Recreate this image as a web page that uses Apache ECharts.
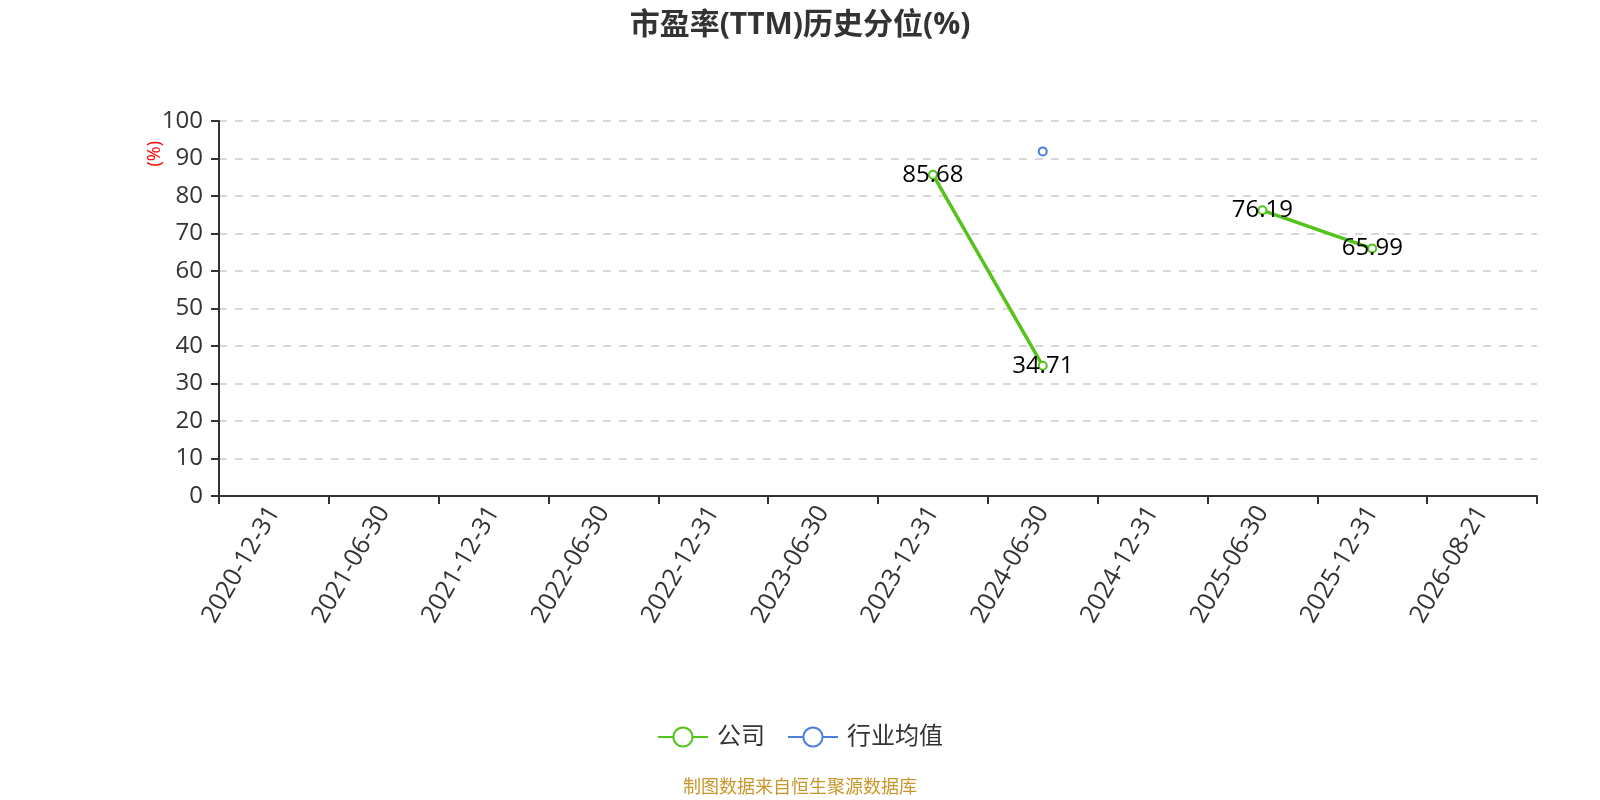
<!DOCTYPE html>
<html>
<head>
<meta charset="utf-8">
<script src="https://cdn.jsdelivr.net/npm/echarts@6/dist/echarts.min.js"></script>
<style>
  html, body { margin: 0; padding: 0; background: #fff; }
  #chart { width: 1600px; height: 800px; }
</style>
</head>
<body>
<div id="chart"></div>
<script>
// 报告期
const categories = ['2020-12-31', '2021-06-30', '2021-12-31', '2022-06-30', '2022-12-31', '2023-06-30',
    '2023-12-31', '2024-06-30', '2024-12-31', '2025-06-30', '2025-12-31', '2026-08-21'];
// 公司 PE(TTM) 历史分位
const companyValues = [null, null, null, null, null, null, 85.68, 34.71, null, 76.19, 65.99, null];
// 行业均值
const industryValues = [null, null, null, null, null, null, null, 91.9, null, null, null, null];
const yTicks = { min: 0, max: 100, interval: 10 };

const fontFamily = "'Open Sans', 'Noto Sans CJK SC', sans-serif";

document.addEventListener("DOMContentLoaded", () => {
    const chart = echarts.init(document.getElementById('chart'));
    chart.setOption({
        animation: false,
        textStyle: { fontFamily: fontFamily },
        title: {
            text: '市盈率(TTM)历史分位(%)',
            left: 'center',
            top: 5,
            textStyle: { fontSize: 30, fontWeight: 'bold', color: '#333', fontFamily: fontFamily }
        },
        legend: {
            bottom: 46,
            left: 'center',
            itemWidth: 50,
            itemHeight: 24,
            itemGap: 22,
            textStyle: { fontSize: 24, color: '#333', padding: [0, 0, 0, 4] },
            data: ['公司', '行业均值']
        },
        grid: { left: 219, right: 63, top: 121, bottom: 304 },
        graphic: [
            {
                type: 'text',
                left: 146,
                top: 141,
                rotation: Math.PI / 2,
                style: { text: '(%)', fill: '#ff0000', fontSize: 18, fontFamily: fontFamily }
            },
            {
                type: 'text',
                left: 'center',
                top: 779,
                style: { text: '制图数据来自恒生聚源数据库', fill: '#c8962a', fontSize: 18, fontFamily: fontFamily }
            }
        ],
        xAxis: {
            type: 'category',
            data: categories,
            boundaryGap: true,
            axisLine: { lineStyle: { color: '#333', width: 2 } },
            axisTick: { show: true, length: 8, lineStyle: { color: '#333', width: 2 } },
            axisLabel: { rotate: 60, fontSize: 25, color: '#333', margin: 12, interval: 0 },
            splitLine: { show: false }
        },
        yAxis: {
            type: 'value',
            min: yTicks.min,
            max: yTicks.max,
            interval: yTicks.interval,
            axisLine: { show: true, lineStyle: { color: '#333', width: 2 } },
            axisTick: { show: true, length: 8, lineStyle: { color: '#333', width: 2 } },
            axisLabel: { fontSize: 24, color: '#333', margin: 16 },
            splitLine: { show: true, lineStyle: { type: [8, 8], color: '#ccc', width: 1.5 } }
        },
        series: [
            {
                name: '公司',
                type: 'line',
                data: companyValues,
                connectNulls: false,
                symbol: 'emptyCircle',
                symbolSize: 8,
                itemStyle: { color: '#52c41a' },
                lineStyle: { color: '#52c41a', width: 3.5 },
                label: {
                    show: true,
                    position: 'inside',
                    fontSize: 24,
                    color: '#000'
                }
            },
            {
                name: '行业均值',
                type: 'line',
                data: industryValues,
                symbol: 'emptyCircle',
                symbolSize: 8,
                itemStyle: { color: '#4a7fe0' },
                lineStyle: { color: '#4a7fe0', width: 3.5 },
                label: { show: false }
            }
        ]
    });
});
</script>
</body>
</html>
